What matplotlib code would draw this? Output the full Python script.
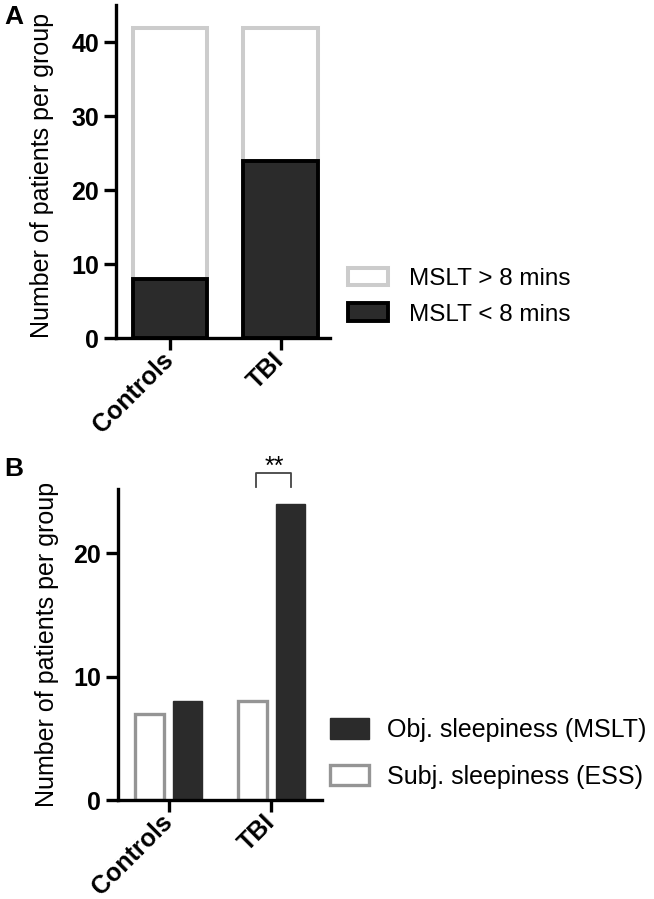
import numpy as np
import matplotlib.pyplot as plt
from matplotlib.patches import Rectangle

plt.rcParams['font.family'] = ['Liberation Sans', 'DejaVu Sans']

# panel A data
groups = ['Controls', 'TBI']
mslt_short = [8, 24]      # MSLT < 8 mins
mslt_long = [34, 18]      # MSLT > 8 mins (total 42 per group)

# panel B data
obj_sleepy = [8, 24]      # MSLT
subj_sleepy = [7, 8]      # ESS

dark = '#2b2b2b'
light_edge = '#cccccc'
gray_edge = '#959595'

fig = plt.figure(figsize=(6.54, 8.99), dpi=100)


def style_axes(ax):
    for s in ['top', 'right']:
        ax.spines[s].set_visible(False)
    for s in ['left', 'bottom']:
        ax.spines[s].set_linewidth(2.4)
    ax.tick_params(axis='both', width=2.4, length=8.5, labelsize=18)
    ax.tick_params(axis='x', pad=5)
    for lab in ax.get_yticklabels():
        lab.set_fontweight('bold')
    ax.set_xticks(range(len(groups)))
    ax.set_xticklabels(groups, rotation=45, ha='right', va='center',
                       rotation_mode='anchor', fontweight='bold', fontsize=18)
    ax.set_ylabel('Number of patients per group', fontsize=18)


# ---- Panel A ----
axA = fig.add_axes([0.177, 0.624, 0.328, 0.370])
x = np.arange(len(groups))
axA.bar(x, mslt_short, width=0.67, color=dark, edgecolor='black', linewidth=2.8, zorder=3)
axA.bar(x, mslt_long, width=0.67, bottom=mslt_short, color='white',
        edgecolor=light_edge, linewidth=2.9, zorder=2)
axA.set_xlim(-0.49, 1.45)
axA.set_ylim(0, 45)
axA.set_yticks([0, 10, 20, 30, 40])
style_axes(axA)
axA.yaxis.set_label_coords(-0.29, 0.49)
fig.text(0.006, 0.981, 'A', fontsize=19, fontweight='bold', va='center')

hA = [Rectangle((0, 0), 1, 1, facecolor='white', edgecolor=light_edge, linewidth=2.9),
      Rectangle((0, 0), 1, 1, facecolor=dark, edgecolor='black', linewidth=2.8)]
fig.legend(hA, ['MSLT > 8 mins', 'MSLT < 8 mins'], loc='center left',
           bbox_to_anchor=(0.532, 0.670), frameon=False, fontsize=17.5,
           borderpad=0, borderaxespad=0,
           handlelength=1.65, handleheight=0.75, labelspacing=0.55, handletextpad=0.85)

# ---- Panel B ----
axB = fig.add_axes([0.180, 0.110, 0.312, 0.346])
off = 0.185
w = 0.28
axB.bar(x - off, subj_sleepy, width=w, color='white', edgecolor=gray_edge,
        linewidth=2.4, zorder=2)
axB.bar(x + off, obj_sleepy, width=w, color=dark, edgecolor=dark, linewidth=1, zorder=2)
axB.set_xlim(-0.495, 1.49)
axB.set_ylim(0, 25.2)
axB.set_yticks([0, 10, 20])
style_axes(axB)
axB.yaxis.set_label_coords(-0.29, 0.5)
fig.text(0.006, 0.478, 'B', fontsize=19, fontweight='bold', va='center')

# significance bracket over TBI
bx0, bx1 = 0.854, 1.194
axB.plot([bx0, bx0, bx1, bx1], [25.4, 26.5, 26.5, 25.4], color='#444444',
         linewidth=1.3, clip_on=False)
axB.text((bx0 + bx1) / 2, 26.0, '**', ha='center', va='bottom', fontsize=18)

hB = [Rectangle((0, 0), 1, 1, facecolor=dark, edgecolor=dark),
      Rectangle((0, 0), 1, 1, facecolor='white', edgecolor=gray_edge, linewidth=2.4)]
fig.legend(hB, ['Obj. sleepiness (MSLT)', 'Subj. sleepiness (ESS)'], loc='center left',
           bbox_to_anchor=(0.505, 0.162), frameon=False, fontsize=18,
           borderpad=0, borderaxespad=0,
           handlelength=1.55, handleheight=0.9, labelspacing=0.9, handletextpad=0.7)

fig.savefig('out.png', dpi=100)
